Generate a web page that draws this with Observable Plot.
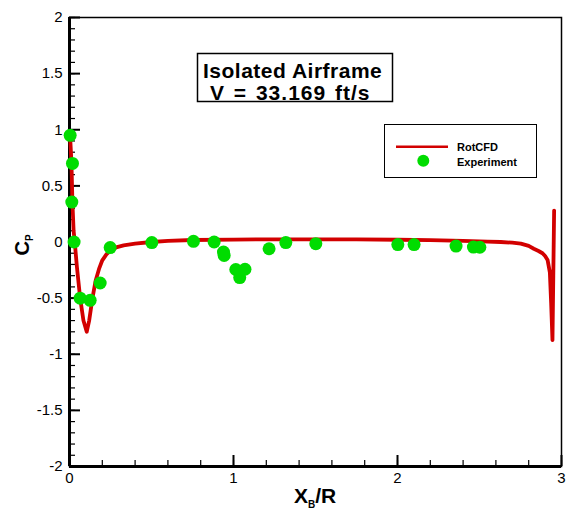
<!DOCTYPE html>
<html>
<head>
<meta charset="utf-8">
<script src="https://cdn.jsdelivr.net/npm/d3@7"></script>
<script src="https://cdn.jsdelivr.net/npm/@observablehq/plot@0.6"></script>
<style>
  body { margin: 0; background: #fff; }
  #chart svg { display: block; }
</style>
</head>
<body>
<div id="chart"></div>
<script>
// RotCFD surface pressure coefficient along the body (X_B / R)
const cfdX = [0.004, 0.008, 0.012, 0.018, 0.025, 0.032, 0.045, 0.065, 0.085, 0.105,
              0.12, 0.14, 0.16, 0.18, 0.2, 0.225, 0.25, 0.29, 0.33, 0.4,
              0.5, 0.6, 0.75, 1.0, 1.25, 1.5, 1.75, 2.0, 2.2, 2.4,
              2.55, 2.63, 2.7, 2.752, 2.8, 2.831, 2.86, 2.884, 2.9, 2.915,
              2.929, 2.937, 2.945, 2.95, 2.955];
const cfdCp = [0.93, 0.82, 0.7, 0.35, 0.1, 0.0, -0.22, -0.5, -0.7, -0.8,
               -0.7, -0.5, -0.34, -0.24, -0.163, -0.11, -0.074, -0.045, -0.03, -0.015,
               0.0, 0.01, 0.018, 0.022, 0.024, 0.024, 0.023, 0.02, 0.016, 0.01,
               0.004, 0.0, -0.006, -0.014, -0.035, -0.06, -0.08, -0.1, -0.125, -0.16,
               -0.27, -0.55, -0.875, -0.3, 0.28];

// Wind-tunnel pressure taps
const expX = [0.004, 0.018, 0.014, 0.028, 0.065, 0.126, 0.187, 0.248, 0.502, 0.756,
              0.882, 0.939, 0.943, 1.014, 1.038, 1.07, 1.217, 1.319, 1.502, 2.002,
              2.101, 2.357, 2.463, 2.502];
const expCp = [0.95, 0.7, 0.356, 0.0, -0.5, -0.52, -0.365, -0.05, -0.005, 0.006,
               0.0, -0.09, -0.12, -0.245, -0.317, -0.243, -0.06, -0.005, -0.015, -0.023,
               -0.023, -0.036, -0.045, -0.047];

// Axis ticks
const xTicks = [0, 1, 2, 3];
const yTicks = [-2, -1.5, -1, -0.5, 0, 0.5, 1, 1.5, 2];
const xMinorTicks = d3.range(0, 3.001, 0.2).map(v => +v.toFixed(1));
const yMinorTicks = d3.range(-2, 2.001, 0.1).map(v => +v.toFixed(1));

const titleLines = ["Isolated Airframe", "V = 33.169 ft/s"];
const seriesNames = ["RotCFD", "Experiment"];

const RED = "#d20000";
const GREEN = "#00dc00";
const FONT = "'Liberation Sans', Arial, Helvetica, sans-serif";

const cfd = cfdX.map((x, i) => ({x, cp: cfdCp[i]}));
const exp = expX.map((x, i) => ({x, cp: expCp[i]}));

const W = 573, H = 513;
const M = {left: 69, right: 12, top: 17, bottom: 47};
const frameW = W - M.left - M.right;
const frameH = H - M.top - M.bottom;
const MAJOR = 11, MINOR = 6;

const plot = Plot.plot({
  width: W,
  height: H,
  marginLeft: M.left,
  marginRight: M.right,
  marginTop: M.top,
  marginBottom: M.bottom,
  x: {domain: [0, 3], label: null},
  y: {domain: [-2, 2], label: null},
  style: {fontFamily: FONT, fontSize: "15px", color: "black", background: "white", overflow: "visible"},
  marks: [
    // inward ticks along the bottom and left axes
    Plot.tickX(xMinorTicks, {x: d => d, insetTop: frameH - MINOR, stroke: "black", strokeWidth: 1.2}),
    Plot.tickX(xTicks, {x: d => d, insetTop: frameH - MAJOR, stroke: "black", strokeWidth: 2}),
    Plot.tickY(yMinorTicks, {y: d => d, insetRight: frameW - MINOR, stroke: "black", strokeWidth: 1.2}),
    Plot.tickY(yTicks, {y: d => d, insetRight: frameW - MAJOR, stroke: "black", strokeWidth: 2}),
    // tick labels
    Plot.axisX(xTicks, {tickSize: 0, tickPadding: 6, tickFormat: d => String(d), label: null, fontSize: 15}),
    Plot.axisY(yTicks, {tickSize: 0, tickPadding: 7, tickFormat: d => String(d), label: null, fontSize: 15}),
    // frame, with heavier left and bottom axes
    Plot.frame({stroke: "black", strokeWidth: 1.5}),
    Plot.ruleX([0], {stroke: "black", strokeWidth: 3}),
    Plot.ruleY([-2], {stroke: "black", strokeWidth: 3}),
    // data
    Plot.line(cfd, {x: "x", y: "cp", stroke: RED, strokeWidth: 3.8, strokeLinejoin: "round", curve: "linear"}),
    Plot.dot(exp, {x: "x", y: "cp", r: 6.5, fill: GREEN, stroke: "none"})
  ]
});

document.getElementById("chart").appendChild(plot);

// Annotations: axis titles with subscripts, title box and legend
const svg = d3.select(plot);
const g = svg.append("g")
  .attr("font-family", FONT)
  .attr("font-weight", "bold")
  .attr("fill", "black")
  .attr("text-anchor", "start");

// x-axis title: X_B/R
const xt = g.append("text")
  .attr("x", 315).attr("y", 503)
  .attr("text-anchor", "middle")
  .attr("font-size", 21);
xt.append("tspan").text("X");
xt.append("tspan").attr("font-size", 10).attr("dy", 5).text("B");
xt.append("tspan").attr("dy", -5).text("/R");

// y-axis title: C_P
const yt = g.append("text")
  .attr("transform", "translate(29,245) rotate(-90)")
  .attr("text-anchor", "middle")
  .attr("font-size", 20);
yt.append("tspan").text("C");
yt.append("tspan").attr("font-size", 10).attr("dy", 4).text("P");

// Title box
g.append("rect")
  .attr("x", 197.5).attr("y", 53.5).attr("width", 195).attr("height", 48)
  .attr("fill", "white").attr("stroke", "black").attr("stroke-width", 1.5);
g.append("text").attr("x", 203).attr("y", 78).attr("font-size", 21)
  .attr("letter-spacing", 0.5).text(titleLines[0]);
g.append("text").attr("x", 210).attr("y", 100).attr("font-size", 21)
  .attr("letter-spacing", 1).attr("word-spacing", 2).text(titleLines[1]);

// Legend
g.append("rect")
  .attr("x", 384.5).attr("y", 124.5).attr("width", 152).attr("height", 53)
  .attr("fill", "white").attr("stroke", "black").attr("stroke-width", 1);
g.append("line")
  .attr("x1", 396).attr("x2", 448).attr("y1", 146.7).attr("y2", 146.7)
  .attr("stroke", RED).attr("stroke-width", 2.5);
g.append("circle")
  .attr("cx", 423.3).attr("cy", 160.7).attr("r", 6)
  .attr("fill", GREEN);
g.append("text").attr("x", 457).attr("y", 150.5).attr("font-size", 11).text(seriesNames[0]);
g.append("text").attr("x", 457).attr("y", 165.5).attr("font-size", 11).text(seriesNames[1]);
</script>
</body>
</html>
